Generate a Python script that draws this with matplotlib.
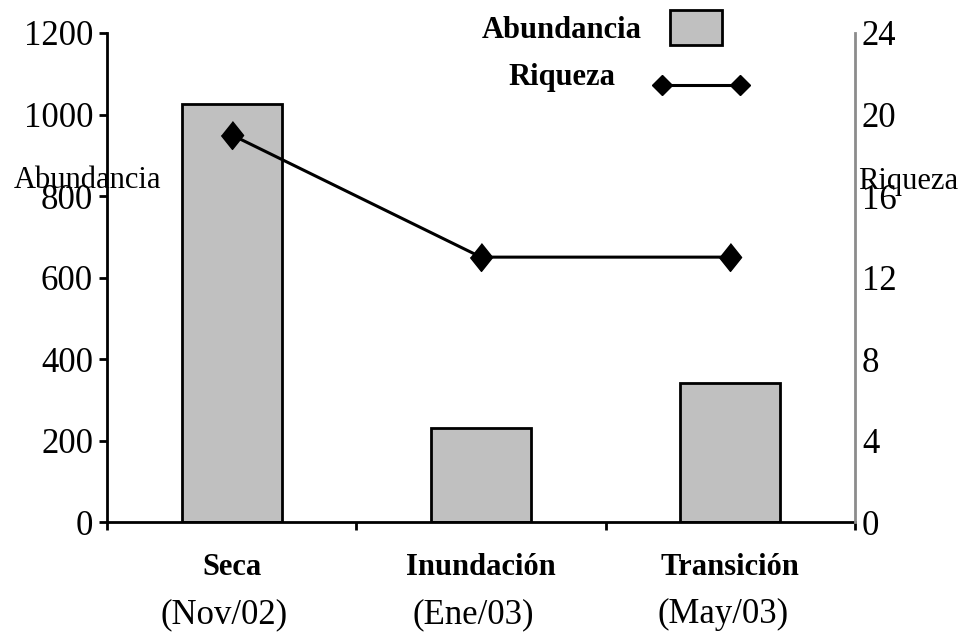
import numpy as np
import matplotlib
matplotlib.use("Agg")
import matplotlib.pyplot as plt
from matplotlib.patches import Rectangle
from matplotlib.lines import Line2D

plt.rcParams['font.family'] = ['Liberation Serif', 'DejaVu Serif']

# Data per season
temporadas = ["Seca", "Inundación", "Transición"]
fechas = ["(Nov/02)", "(Ene/03)", "(May/03)"]
abundancia = [1026, 231, 341]
riqueza = [19, 13, 13]

x = np.arange(len(temporadas))

fig = plt.figure(figsize=(9.69, 6.37), dpi=100)
ax = fig.add_axes([0.1104, 0.1805, 0.772, 0.7677])
ax2 = ax.twinx()

# Bars for abundance on the left axis
ax.bar(x, abundancia, width=0.4, color="#c0c0c0", edgecolor="black", linewidth=2.0, zorder=2)
ax.set_xlim(-0.5, 2.5)
ax.set_ylim(0, 1200)
ax.set_yticks(np.arange(0, 1201, 200))
ax.tick_params(axis="y", direction="out", length=6, width=2.0, pad=4, labelsize=25)
ax.set_xticks(x)
ax.set_xticklabels([])
ax.tick_params(axis="x", which="major", length=0)
ax.set_xticks(np.arange(-0.5, 2.6, 1), minor=True)
ax.tick_params(axis="x", which="minor", direction="out", length=6, width=2.0)
for s in ["top", "right"]:
    ax.spines[s].set_visible(False)
ax.spines["left"].set_linewidth(2.0)
ax.spines["bottom"].set_linewidth(2.0)

# Richness line on the right axis
ax2.plot(x, riqueza, color="black", linewidth=2.2, marker=[(0, 1), (0.8, 0), (0, -1), (-0.8, 0)],
         markersize=20, zorder=3)
ax2.set_ylim(0, 24)
ax2.set_yticks(np.arange(0, 25, 4))
ax2.tick_params(axis="y", length=0, pad=5, labelsize=25)
for s in ["top", "left", "bottom"]:
    ax2.spines[s].set_visible(False)
ax2.spines["right"].set_color("#8c8c8c")
ax2.spines["right"].set_linewidth(2.0)

# Category labels
for xi, t, f in zip(x, temporadas, fechas):
    ax.text(xi, -0.092, t, transform=ax.get_xaxis_transform(), ha="center", va="center",
            fontsize=22, fontweight="bold")
    ax.text(xi - 0.03, -0.19, f, transform=ax.get_xaxis_transform(), ha="center", va="center",
            fontsize=25)

# Axis titles
fig.text(88 / 969, 1 - 181 / 637, "Abundancia", ha="center", va="center", fontsize=22)
fig.text(908 / 969, 1 - 181 / 637, "Riqueza", ha="center", va="center", fontsize=22)

# Legend drawn by hand
W, H = 969, 637
fig.text(562 / W, 1 - 30 / H, "Abundancia", ha="center", va="center", fontsize=22, fontweight="bold")
fig.text(562 / W, 1 - 78 / H, "Riqueza", ha="center", va="center", fontsize=22, fontweight="bold")
fig.add_artist(Rectangle((670 / W, 1 - 45 / H), 52 / W, 35 / H, transform=fig.transFigure,
                         facecolor="#c0c0c0", edgecolor="black", linewidth=2.0))
fig.add_artist(Line2D([662 / W, 740 / W], [1 - 85 / H, 1 - 85 / H], transform=fig.transFigure,
                      color="black", linewidth=2.2, marker="D", markersize=10))

fig.savefig("out.png", dpi=100)
